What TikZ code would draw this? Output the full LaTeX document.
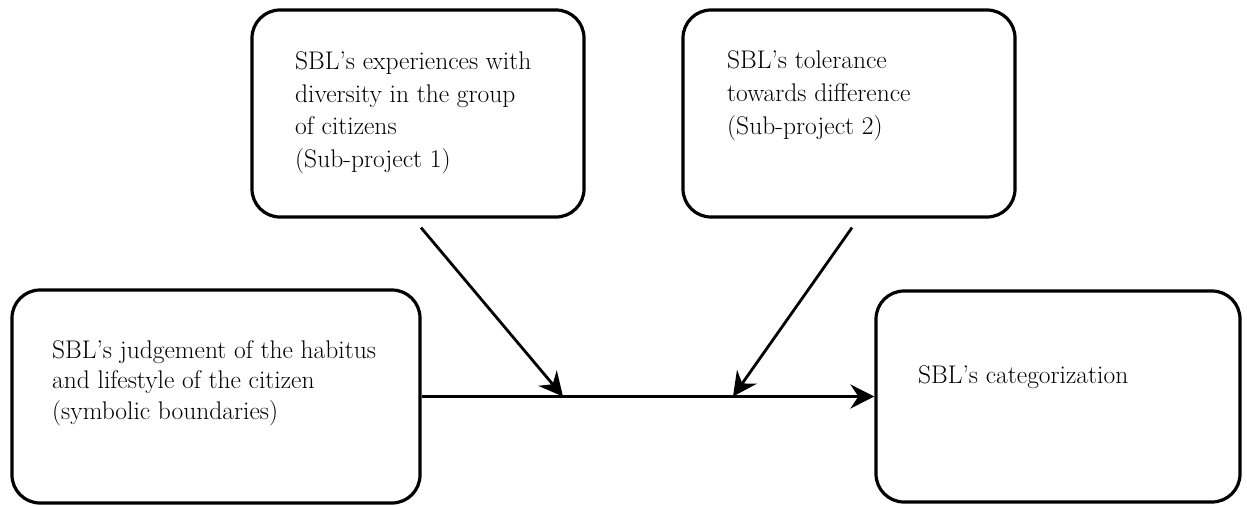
\documentclass[tikz,border=0pt]{standalone}
\usepackage{fontspec}
\usetikzlibrary{arrows.meta}
\begin{document}
\begin{tikzpicture}[x=1pt,y=-1pt,
  box/.style={draw, line width=3.2pt, rounded corners=28pt, inner sep=0pt},
  txt/.style={inner sep=0pt, anchor=base west, align=left},
  arr/.style={line width=2.8pt, -{Stealth[length=24pt,width=24pt,inset=8pt]}}]
\useasboundingbox (0,0) rectangle (1247,506);
% boxes
\node[box, minimum width=332pt, minimum height=207pt] (b1) at (418,113.5) {};
\node[box, minimum width=332pt, minimum height=207pt] (b2) at (849,113.5) {};
\node[box, minimum width=408pt, minimum height=213pt] (b3) at (216,396.5) {};
\node[box, minimum width=364pt, minimum height=211pt] (b4) at (1058,396.5) {};
% texts (anchored at the baseline of the last line)
\node[txt, font=\fontsize{25.5}{32.5}\selectfont] (t1) at (295,167)
  {SBL's experiences with\\diversity in the group\\of citizens\\(Sub-project 1)};
\node[txt, font=\fontsize{25.5}{33}\selectfont] (t2) at (727,134)
  {SBL's tolerance\\towards difference\\(Sub-project 2)};
\node[txt, font=\fontsize{25.5}{30.5}\selectfont] (t3) at (52,419)
  {SBL's judgement of the habitus\\and lifestyle of the citizen\\(symbolic boundaries)};
\node[txt, font=\fontsize{25.5}{30}\selectfont] (t4) at (918,383)
  {SBL's categorization};
% connectors
\draw[arr] (b3.east) -- (b4.west);
\coordinate (m1) at (563,396.5);
\coordinate (m2) at (733,396.5);
\draw[arr] ([shift={(3pt,-9pt)}]b1.south) -- (m1);
\draw[arr] ([shift={(3pt,-9pt)}]b2.south) -- (m2);
\end{tikzpicture}
\end{document}
